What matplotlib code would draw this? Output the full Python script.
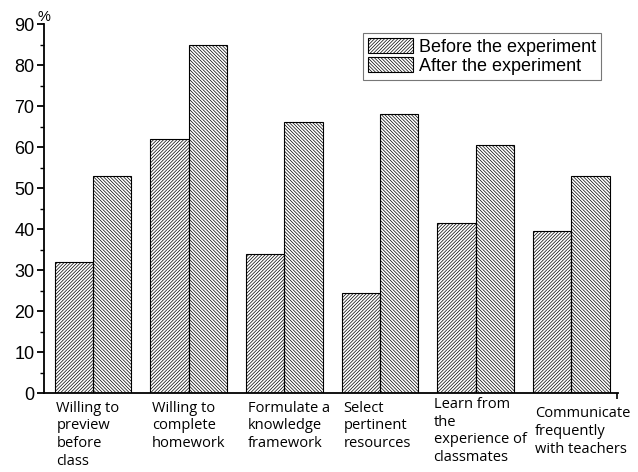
import matplotlib.pyplot as plt
import numpy as np

categories = ['Willing to\npreview\nbefore\nclass',
              'Willing to\ncomplete\nhomework',
              'Formulate a\nknowledge\nframework',
              'Select\npertinent\nresources',
              'Learn from\nthe\nexperience of\nclassmates',
              'Communicate\nfrequently\nwith teachers']
before = [32, 62, 34, 24.5, 41.5, 39.5]
after = [53, 85, 66, 68, 60.5, 53]

plt.rcParams['hatch.linewidth'] = 0.5

fig = plt.figure(figsize=(6.38, 4.72), dpi=100, facecolor='white')
ax = fig.add_axes([0.069, 0.167, 0.9, 0.782])

x = np.arange(len(categories))
w = 0.4
ax.bar(x - w / 2, before, w, fill=False, hatch='/' * 10, edgecolor='black',
       linewidth=0.8, label='Before the experiment')
ax.bar(x + w / 2, after, w, fill=False, hatch='\\' * 10, edgecolor='black',
       linewidth=0.8, label='After the experiment')

ax.set_xlim(-0.51, 5.49)
ax.set_ylim(0, 90)
ax.set_yticks(range(0, 91, 10))
ax.set_yticks(range(5, 90, 10), minor=True)
ax.set_xticks([5.48], [''])  # only the little end tick of the original
ax.tick_params(axis='x', length=4, width=1.2)
ax.tick_params(axis='y', which='major', length=5, width=1.3, labelsize=13, pad=2)
ax.tick_params(axis='y', which='minor', length=3, width=1.0)
for lab in ax.get_yticklabels():
    lab.set_fontfamily('Liberation Sans')
for s in ['top', 'right']:
    ax.spines[s].set_visible(False)
for s in ['left', 'bottom']:
    ax.spines[s].set_linewidth(1.3)

ax.text(-0.012, 1.0, '%', transform=ax.transAxes, fontsize=10.5,
        family='Liberation Sans', ha='left', va='bottom')

# category labels below the axis, left aligned to each group
# (the scanned original has the last two labels slightly shifted)
dx = [0, 0, 0, 0, -0.06, 0]
dy = [0, 0, 0, 0, 0.01, -0.015]
for i, c in enumerate(categories):
    ax.text(i - w + 0.02 + dx[i], -0.02 + dy[i], c,
            transform=ax.get_xaxis_transform(),
            ha='left', va='top', fontsize=10.5, family='Open Sans',
            linespacing=1.25)

leg = ax.legend(loc='upper right', bbox_to_anchor=(0.97, 0.975),
                prop={'family': 'Liberation Sans', 'size': 13},
                frameon=True, fancybox=False, edgecolor='#555555',
                handlelength=2.5, handleheight=0.9, handletextpad=0.35,
                borderpad=0.25, labelspacing=0.1, borderaxespad=0)
leg.get_frame().set_linewidth(0.8)

fig.savefig('out.png', dpi=100, facecolor='white')
